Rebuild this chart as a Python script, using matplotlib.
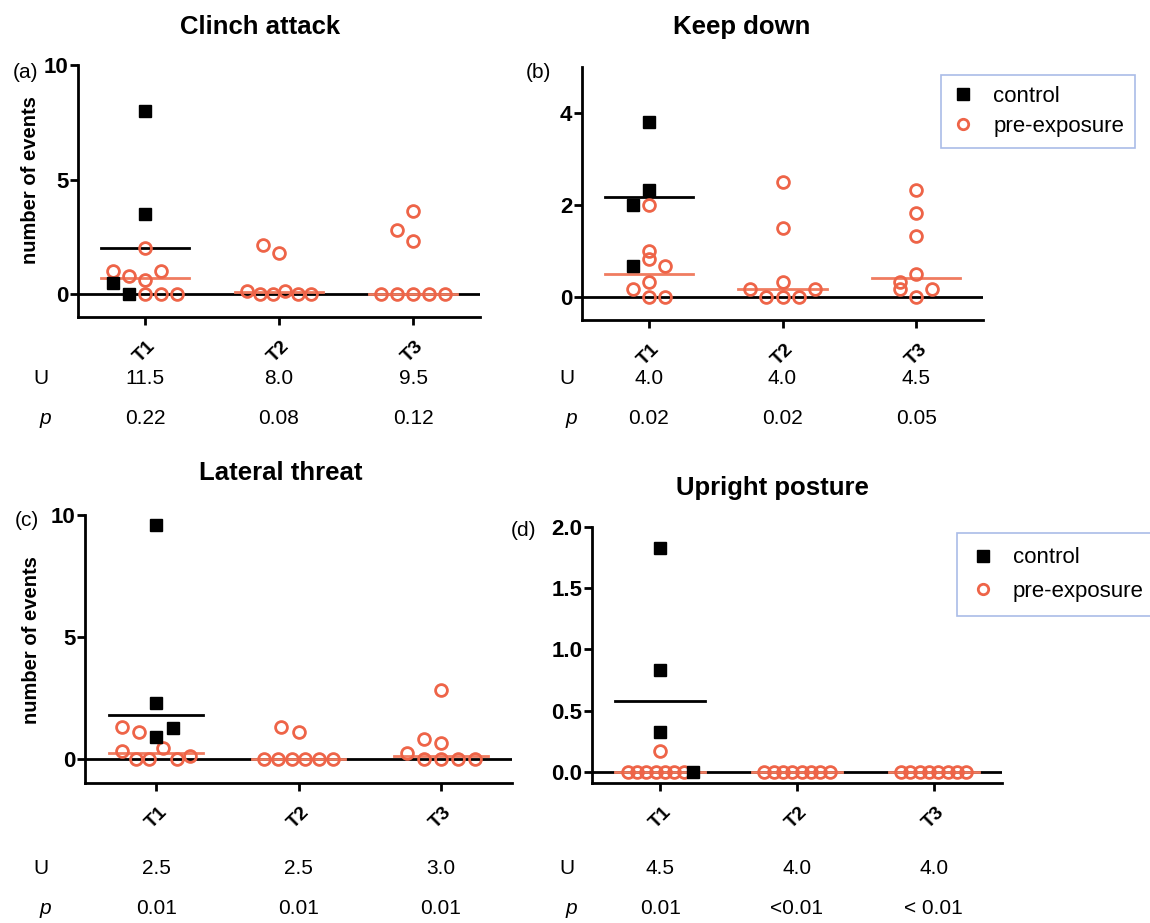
import numpy as np
import matplotlib
matplotlib.use('Agg')
import matplotlib.pyplot as plt
from matplotlib.lines import Line2D
from matplotlib.transforms import blended_transform_factory

plt.rcParams['font.family'] = ['Liberation Sans', 'DejaVu Sans']

W, H = 1150, 923
ORANGE = '#EE6448'
ORANGE_LINE = '#F07C60'

times = ['T1', 'T2', 'T3']

# (a) Clinch attack
clinch_control = [8.0, 3.5, 0.5, 0.0]
clinch_pre = [[2.0, 1.0, 0.8, 0.6, 1.0, 0.0, 0.0, 0.0],
              [2.15, 1.8, 0.15, 0.0, 0.0, 0.15, 0.0, 0.0],
              [3.64, 2.8, 2.3, 0.0, 0.0, 0.0, 0.0, 0.0]]
clinch_U = ['11.5', '8.0', '9.5']
clinch_p = ['0.22', '0.08', '0.12']

# (b) Keep down
keep_control = [3.8, 2.33, 2.0, 0.67]
keep_pre = [[2.0, 1.0, 0.83, 0.67, 0.33, 0.17, 0.0, 0.0],
            [2.5, 1.5, 0.33, 0.17, 0.0, 0.0, 0.0, 0.17],
            [2.33, 1.83, 1.33, 0.33, 0.5, 0.17, 0.0, 0.17]]
keep_U = ['4.0', '4.0', '4.5']
keep_p = ['0.02', '0.02', '0.05']

# (c) Lateral threat
lateral_control = [9.6, 2.3, 0.9, 1.25]
lateral_pre = [[1.28, 1.1, 0.33, 0.0, 0.0, 0.45, 0.0, 0.12],
               [1.28, 1.1, 0.0, 0.0, 0.0, 0.0, 0.0, 0.0],
               [2.8, 0.8, 0.63, 0.25, 0.0, 0.0, 0.0, 0.0]]
lateral_U = ['2.5', '2.5', '3.0']
lateral_p = ['0.01', '0.01', '0.01']

# (d) Upright posture
upright_control = [1.83, 0.83, 0.33, 0.0]
upright_pre = [[0.17, 0.0, 0.0, 0.0, 0.0, 0.0, 0.0, 0.0],
               [0.0, 0.0, 0.0, 0.0, 0.0, 0.0, 0.0, 0.0],
               [0.0, 0.0, 0.0, 0.0, 0.0, 0.0, 0.0, 0.0]]
upright_U = ['4.5', '4.0', '4.0']
upright_p = ['0.01', '<0.01', '< 0.01']


def swarm_offsets(values, px_per_unit, slot=0.12, row_px=13):
    # Prism-like rows: points close in y share a row and are spread sideways
    vals = np.asarray(values, dtype=float)
    order = np.argsort(vals, kind='stable')
    rows, cur, start = [], [], None
    for i in order:
        if cur and (vals[i] - start) * px_per_unit > row_px:
            rows.append(cur)
            cur = []
        if not cur:
            start = vals[i]
        cur.append(i)
    rows.append(cur)
    off = np.zeros(len(vals))
    for r in rows:
        r = sorted(r)
        n = len(r)
        if n <= 5:
            pos = np.arange(n) - n // 2
        else:
            pos = np.linspace(-2, 2, n)
        off[r] = pos * slot
    return off


fig = plt.figure(figsize=(W / 100, H / 100), dpi=100)


def make_axes(l, r, t, b):
    return fig.add_axes([l / W, 1 - b / H, (r - l) / W, (b - t) / H])


def panel(box, control, pre, ylim, yticks, ytl, title, title_xy, letter, letter_xy,
          U, p, urow_y, ux, ylabel_xy=None, control_first=True):
    ax = make_axes(*box)
    ax.set_xlim(-0.5, 2.5)
    ax.set_ylim(*ylim)
    for s in ['top', 'right']:
        ax.spines[s].set_visible(False)
    for s in ['left', 'bottom']:
        ax.spines[s].set_linewidth(2)
    ax.axhline(0, color='black', lw=2, zorder=1)
    ppu = ax.get_window_extent().height / (ylim[1] - ylim[0])

    for k, vals in enumerate(pre):
        if k == 0:
            nc = len(control)
            if control_first:
                off = swarm_offsets(list(control) + list(vals), ppu)
                coff, poff = off[:nc], off[nc:]
            else:
                off = swarm_offsets(list(vals) + list(control), ppu)
                poff, coff = off[:len(vals)], off[len(vals):]
            ax.plot([k - 0.33, k + 0.33], [np.median(control)] * 2, color='black', lw=2, zorder=2)
            ax.plot(k + coff, control, 's', color='black', ms=9, zorder=4, linestyle='none')
        else:
            poff = swarm_offsets(vals, ppu)
        ax.plot([k - 0.33, k + 0.33], [np.median(vals)] * 2, color=ORANGE_LINE, lw=2, zorder=2)
        ax.plot(k + poff, vals, 'o', mfc='none', mec=ORANGE, mew=2, ms=8.5, zorder=3,
                linestyle='none')

    ax.set_xticks(range(3))
    ax.set_xticklabels(times, rotation=45, ha='center', fontsize=14, fontweight='bold')
    ax.set_yticks(yticks)
    ax.set_yticklabels(ytl, fontsize=16, fontweight='bold')
    ax.tick_params(axis='both', direction='out', width=2, length=6)
    ax.tick_params(axis='x', pad=9)
    ax.tick_params(axis='y', pad=1)

    fig.text(title_xy[0] / W, 1 - title_xy[1] / H, title, ha='center', va='center',
             fontsize=18.5, fontweight='bold')
    fig.text(letter_xy[0] / W, 1 - letter_xy[1] / H, letter, ha='center', va='center',
             fontsize=15)
    if ylabel_xy is not None:
        fig.text(ylabel_xy[0] / W, 1 - ylabel_xy[1] / H, 'number of events', rotation=90,
                 ha='center', va='center', fontsize=14.5, fontweight='bold')

    tr = blended_transform_factory(ax.transData, fig.transFigure)
    fig.text(ux / W, 1 - urow_y / H, 'U', ha='center', va='center', fontsize=15)
    fig.text((ux + 4) / W, 1 - (urow_y + 40) / H, 'p', ha='center', va='center',
             fontsize=15, style='italic')
    for k in range(3):
        ax.text(k, 1 - urow_y / H, U[k], transform=tr, ha='center', va='center', fontsize=15)
        ax.text(k, 1 - (urow_y + 40) / H, p[k], transform=tr, ha='center', va='center',
                fontsize=15)
    return ax


panel((78, 480, 65, 317), clinch_control, clinch_pre, (-1, 10), [0, 5, 10], ['0', '5', '10'],
      'Clinch attack', (260, 27), '(a)', (26, 72), clinch_U, clinch_p, 378, 41,
      ylabel_xy=(31, 180))
panel((582, 983, 67, 320), keep_control, keep_pre, (-0.5, 5), [0, 2, 4], ['0', '2', '4'],
      'Keep down', (742, 27), '(b)', (538, 72), keep_U, keep_p, 378, 567)
panel((85, 512, 515, 783), lateral_control, lateral_pre, (-1, 10), [0, 5, 10], ['0', '5', '10'],
      'Lateral threat', (281, 473), '(c)', (27, 521), lateral_U, lateral_p, 868, 41,
      ylabel_xy=(32, 640), control_first=False)
panel((592, 1002, 527, 783), upright_control, upright_pre, (-0.09, 2.0),
      [0, 0.5, 1.0, 1.5, 2.0], ['0.0', '0.5', '1.0', '1.5', '2.0'],
      'Upright posture', (772, 488), '(d)', (524, 531), upright_U, upright_p, 868, 567,
      control_first=False)

handles = [Line2D([], [], marker='s', color='black', ms=8.5, linestyle='none'),
           Line2D([], [], marker='o', mfc='none', mec=ORANGE, mew=2, ms=7.5, linestyle='none')]
for anchor, spacing, bpad in [((941, 75), 0.4, 0.5), ((957, 533), 0.55, 0.65)]:
    leg = fig.legend(handles, ['control', 'pre-exposure'], loc='upper left',
                     bbox_to_anchor=(anchor[0] / W, 1 - anchor[1] / H), fontsize=16,
                     frameon=True, fancybox=False, edgecolor='#AABCE8', framealpha=1,
                     handlelength=1.0, handletextpad=0.85, labelspacing=spacing,
                     borderpad=bpad, borderaxespad=0)
    leg.get_frame().set_linewidth(1.2)

fig.savefig('out.png', dpi=100)
